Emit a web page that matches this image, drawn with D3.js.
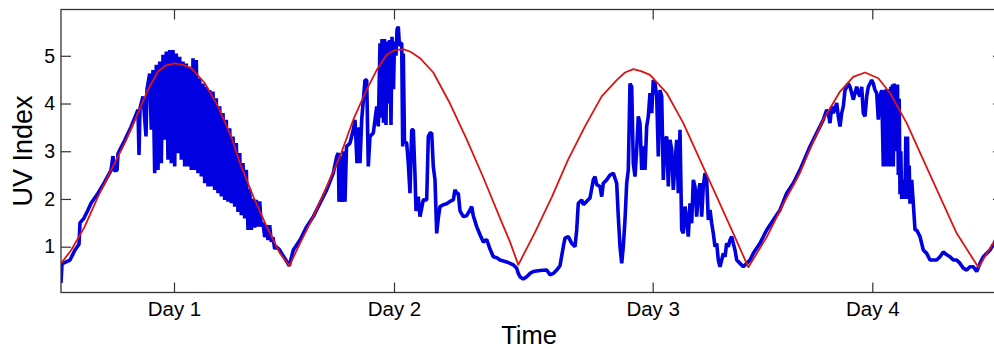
<!DOCTYPE html>
<html>
<head>
<meta charset="utf-8">
<script src="https://cdn.jsdelivr.net/npm/d3@7"></script>
<style>
  html, body { margin: 0; padding: 0; background: #fff; }
  svg { display: block; overflow: hidden; }
  text { font-family: "Liberation Sans", Arial, Helvetica, sans-serif; fill: #000; }
</style>
</head>
<body>
<svg id="chart" width="994" height="349"></svg>
<script>
// ---- data (x = sample index along the time axis, y = UV index) ----
const dayTicks  = [113, 333, 591.7, 811.3];
const dayLabels = ["Day 1", "Day 2", "Day 3", "Day 4"];
const uvTicks   = [1, 2, 3, 4, 5];

// measured UV index (blue)
const measuredUV = [
  [0,0.24],[1,0.65],[3,0.66],[9,0.72],[14,0.93],[18,1.05],[19,1.5],[23,1.6],[27,1.77],[30,1.91],[37,2.12],[43,2.33],[50,2.6],[52,2.9],[53,2.6],[56,2.6],[57,2.95],[64,3.24],[70,3.51],[77,3.87],[78,2.92],[79,3.9],[82,4.15],[85,3.31],[86,4.3],
  [88.7,4.63],[90.3,3.45],[92,4.70],[93.7,2.54],[95.3,4.81],[97,2.61],[98.7,4.88],[100.3,2.75],[102,5.02],[103.7,3.24],[105.3,5.09],[107,2.82],[108.7,5.12],[110.3,2.75],[112,5.12],[113.7,2.68],[115.3,5.05],[117,2.96],[118.7,4.98],[120.3,2.82],[122,4.88],[123.7,2.68],[125.3,4.84],[127,2.68],[128.7,4.77],[130.3,2.61],[132,4.95],[133.7,2.61],[135.3,4.91],[137,2.54],[138.7,4.53],[140.3,2.47],[142,4.42],[143.7,2.33],[145.3,4.35],[147,2.26],[148.7,4.28],[150.3,2.26],[152,4.25],[153.7,2.19],[155.3,4.11],[157,2.12],[158.7,3.94],[160.3,2.05],[162,3.80],[163.7,1.98],[165.3,3.66],[167,1.94],[168.7,3.48],[170.3,1.91],[172,3.31],[173.7,1.84],[175.3,3.17],[177,1.73],[178.7,2.96],[180.3,1.66],[182,2.75],[183.7,1.59],[185.3,2.61],[187,1.35],[188.7,2.2],[190.3,1.35],[192,2.0],[193.7,1.4],[195.3,1.98],[197,1.42],[198.7,1.95],[200.3,1.42],[202,1.5],[203.7,1.2],[205.3,1.45],[207,1.14],[208.7,1.45],[210.3,1.1],[212,1.2],[213.7,0.95],[215,1.0],[218,0.95],[221,0.85],[224,0.75],[228.3,0.6],
  [232.3,0.93],[239,1.14],[245.7,1.42],[252.3,1.63],[259,1.91],[265.7,2.19],[272.3,2.54],[275.7,2.89],[277.3,2.96],[278,1.94],[279.5,2.9],[281,1.94],[282.5,3.0],[284,1.94],[285.5,3.1],[289,3.17],[292.3,3.45],[294,3.66],[296,2.75],[298,3.5],[299,2.75],[300.7,3.66],[304,4.49],[305.7,4.49],[307.3,2.68],[309,3.31],[312.3,3.38],[315.7,3.94],[317.3,3.52],[319,5.26],[320,3.7],[321,5.35],[322.5,3.6],[323.5,5.35],[325,3.55],[326,5.3],[327.5,4.0],[328.5,5.33],[330,3.55],[331,5.4],[332.5,4.3],[333.5,5.3],[335,5.0],[336,5.55],[337.3,5.61],[338.5,5.2],[339.5,5.26],[340.7,5.26],[341.7,3.1],[342.3,5.05],[343.5,3.2],[345.7,3.17],[347.3,2.75],[349,2.12],[350.7,3.45],[352.3,3.45],[354,2.5],[355,1.75],[357.3,2.05],[359,1.63],[362.3,1.98],[365.7,1.98],[367.3,3.31],[369,3.38],[370.7,3.38],[372.3,2.68],[374,2.4],[375.7,1.28],[377.3,1.6],[379,1.84],[382.3,1.88],[385.7,1.9],[389,1.95],[392.3,1.98],[394,2.19],[395.7,2.12],[397.3,2.12],[399,1.75],[402.3,1.63],[405.7,1.65],[409,1.77],[410.7,1.84],[412.3,1.65],[415.7,1.42],[419,1.25],[422.3,1.1],[425.7,1.15],[429,0.95],[432.3,0.79],[435.7,0.77],[439,0.72],[445.7,0.68],[452.3,0.62],[455.7,0.55],[457.3,0.44],[459,0.37],[462.3,0.32],[465.7,0.37],[469,0.44],[472.3,0.48],[479,0.5],[485.7,0.51],[489,0.41],[492.3,0.44],[495.7,0.51],[499,0.6],[502.3,1.0],[504,1.18],[507.3,1.21],[510.7,1.07],[514,1.0],[515.7,1.35],[517.3,1.91],[520.7,1.98],[522.3,1.88],[525.7,1.95],[529,2.02],[532.3,2.4],[534,2.47],[535.7,2.3],[539,2.26],
  [540.7,2.05],[542.3,2.33],[545.7,2.4],[549,2.5],[552.3,2.54],[555.7,2.33],[557.3,1.63],[559,1.0],[560.7,0.65],[562.3,1.0],[564,1.56],[565.7,2.33],[567.3,2.61],[569,4.42],[570.7,4.35],[572.3,2.75],[574,2.47],[575.7,3.03],[577.3,3.73],[579,3.59],[580.7,2.61],[582.3,3.1],[584,2.61],[585.7,3.52],[587.3,3.73],[589,4.22],[590.7,3.8],[592.3,4.49],[594,4.42],[595.7,4.15],[597.3,2.89],[599,4.28],[600.7,4.15],[602.3,2.4],[604,3.24],[605.7,3.31],[607.3,2.26],[609,3.24],[610.7,3.03],[612.3,2.19],[614,2.75],[615.7,3.24],[617.3,2.12],[619,3.45],[620.7,1.35],[622.3,1.28],[624,1.84],[625.7,1.56],[627.3,1.21],[629,1.91],[630.7,1.49],[632.3,2.4],[634,2.26],[635.7,1.63],[637.3,2.12],[639,2.33],[640.7,1.63],[642.3,2.26],[644,2.54],[645.7,2.4],[647.3,1.56],[649,1.77],[650.7,1.49],[652.3,1.28],[654,1.0],[655.7,1.07],[657.3,0.72],[659,0.58],[660.7,0.72],[662.3,0.86],[664,0.79],[665.7,1.07],[667.3,1.0],[669,1.14],[670.7,1.21],[672.3,1.07],[674,0.93],[675.7,0.72],[679,0.65],[682.3,0.58],[685.7,0.65],[689,0.72],[692.3,0.86],[699,1.07],[705.7,1.35],[712.3,1.56],[719,1.77],[725.7,2.12],[732.3,2.33],[739,2.61],
  [749,3.1],[759,3.52],[762.3,3.66],[765.7,3.87],[767.3,3.8],[769,3.59],[770.7,3.94],[772.3,3.8],[775.7,4.01],[777.3,3.73],[779,3.52],[780.7,3.8],[782.3,3.94],[784,4.28],[785.7,4.35],[787.3,4.42],[789,4.35],[790.7,4.22],[792.3,4.08],[794,4.22],[795.7,4.35],[797.3,4.22],[799,4.15],[800.7,4.35],[802.3,3.8],[804,3.73],[805.7,4.15],[807.3,4.35],[809,4.42],[810.7,4.49],[812.3,4.42],[814,4.28],[815.7,4.22],[817.3,3.66],[819,4.15],[820.7,4.28],[822.3,2.68],[823.2,4.28],[824,2.7],[824.8,4.3],[825.7,2.68],[826.5,4.2],[827.3,3.0],[828.2,4.3],[829,2.68],[829.8,4.35],[830.7,2.9],[831.5,4.4],[832.3,2.68],[833.2,4.42],[834,3.3],[834.8,4.3],[835.7,3.0],[836.5,4.4],[837.3,2.5],[838.2,4.1],[839,2.1],[839.8,3.0],[840.7,2.0],[841.5,2.4],[842.3,2.0],[843.2,2.3],[844,2.1],[844.8,3.31],[845.7,2.0],[846.5,3.31],[847.3,2.0],[848.2,2.7],[849,1.9],[850.7,2.4],[852.3,1.91],[854,1.35],[855.7,1.35],[859,1.21],[862.3,0.93],[865.7,0.86],[869,0.72],[872.3,0.72],[875.7,0.72],[879,0.79],[882.3,0.89],[885.7,0.83],[889,0.79],[892.3,0.72],[895.7,0.72],[899,0.65],[902.3,0.55],[905.7,0.51],[909,0.58],[912.3,0.58],[915.7,0.48],[919,0.65],[922.3,0.79],[925.7,0.86],[929,0.93],[933,1.07],[939,1.3],[942,1.45]
];

// clear-sky model UV index (red)
const modelUV = [
  [0,0.65],[10.3,0.93],[23.7,1.42],[37,2.05],[50.3,2.61],[63.7,3.17],[77,3.80],[87,4.29],[97,4.67],[105,4.8],[113.7,4.84],[122,4.81],[130.3,4.74],[143.7,4.43],[157,3.94],[170.3,3.3],[179,2.75],[192.3,2.05],[205.7,1.42],[219,0.86],[228.3,0.6],
  [239,1.07],[252.3,1.63],[265.7,2.26],[279,2.89],[292.3,3.66],[305.7,4.29],[315.7,4.70],[325.7,5.02],[334,5.12],[342.3,5.14],[350,5.08],[359,4.95],[372.3,4.65],[389,4.0],[405.7,3.25],[422.3,2.45],[439,1.6],[449,1.1],[457.3,0.62],
  [474,1.3],[491,2.05],[507,2.82],[524,3.52],[540.7,4.15],[555.7,4.49],[564,4.65],[572.3,4.72],[580,4.68],[589,4.60],[605.7,4.22],[622.3,3.59],[639,2.82],[655.7,2.05],[672.3,1.28],[687.3,0.57],
  [705.7,1.2],[722.3,1.9],[739,2.55],[745.7,2.89],[762.3,3.66],[779,4.25],[792.3,4.56],[804,4.65],[817.3,4.53],[829,4.22],[845.7,3.59],[862.3,2.82],[879,2.05],[895.7,1.28],[917.3,0.57],[933,1.10],[942,1.48]
];

// ---- drawing ----
const svg = d3.select("#chart");
const L = 61, R = 1003, T = 9.5, B = 292.5;
const x = d3.scaleLinear().domain([0, 942]).range([L, R]);
const y = d3.scaleLinear().domain([0.04, 5.97]).range([B, T]);

svg.append("rect").attr("width", 994).attr("height", 349).attr("fill", "#fff");

svg.append("clipPath").attr("id", "plotclip")
  .append("rect").attr("x", L).attr("y", T).attr("width", R - L).attr("height", B - T);

const line = d3.line().x(d => x(d[0])).y(d => y(d[1]));

const plot = svg.append("g").attr("clip-path", "url(#plotclip)");
plot.append("path").datum(measuredUV)
  .attr("d", line).attr("fill", "none")
  .attr("stroke", "#0000e0").attr("stroke-width", 3.6)
  .attr("stroke-linejoin", "bevel");
plot.append("path").datum(modelUV)
  .attr("d", line).attr("fill", "none")
  .attr("stroke", "#dc1414").attr("stroke-width", 1.8)
  .attr("stroke-linejoin", "round");

const axisColor = "#333";
function styleAxis(g, size) {
  g.select(".domain").remove();
  g.selectAll(".tick line").attr("stroke", axisColor).attr("stroke-width", 1.2);
  g.selectAll(".tick text").attr("font-size", size).attr("fill", "#000")
    .attr("font-family", '"Liberation Sans", Arial, sans-serif');
}

svg.append("g").attr("transform", `translate(0,${B})`)
  .call(d3.axisBottom(x).tickValues(dayTicks).tickFormat((d, i) => dayLabels[i]).tickSize(-10).tickPadding(8.5))
  .call(styleAxis, 20.5);
svg.append("g").attr("transform", `translate(0,${T})`)
  .call(d3.axisTop(x).tickValues(dayTicks).tickFormat("").tickSize(-10))
  .call(styleAxis, 20);
svg.append("g").attr("transform", `translate(${L},0)`)
  .call(d3.axisLeft(y).tickValues(uvTicks).tickFormat(d3.format("d")).tickSize(-10).tickPadding(6))
  .call(styleAxis, 19.5);
svg.append("g").attr("transform", `translate(${R},0)`)
  .call(d3.axisRight(y).tickValues(uvTicks).tickFormat("").tickSize(-10))
  .call(styleAxis, 19);

svg.append("rect").attr("x", L).attr("y", T).attr("width", R - L).attr("height", B - T)
  .attr("fill", "none").attr("stroke", axisColor).attr("stroke-width", 1.3);

svg.append("text").attr("x", 529).attr("y", 344).attr("text-anchor", "middle")
  .attr("font-size", 25.5).text("Time");
svg.append("text").attr("transform", "translate(32,151) rotate(-90)")
  .attr("text-anchor", "middle").attr("font-size", 27).text("UV Index");
</script>
</body>
</html>
